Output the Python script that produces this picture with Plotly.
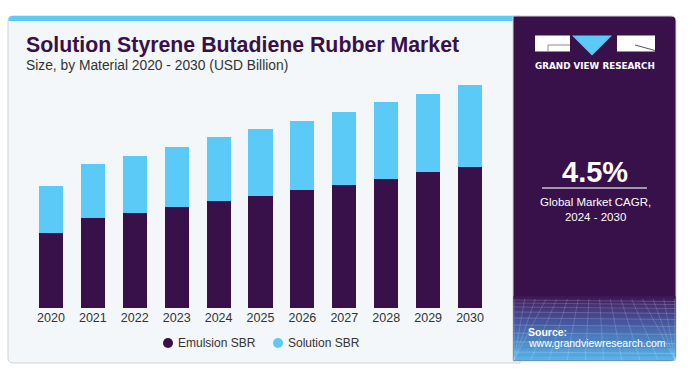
import plotly.graph_objects as go

# ---------------- data ----------------
years = ["2020", "2021", "2022", "2023", "2024", "2025", "2026", "2027", "2028", "2029", "2030"]
emulsion_sbr = [5.96, 7.13, 7.53, 8.00, 8.48, 8.90, 9.38, 9.78, 10.26, 10.81, 11.21]
solution_sbr = [3.72, 4.29, 4.58, 4.80, 5.09, 5.36, 5.51, 5.83, 6.09, 6.23, 6.52]
series_names = ["Emulsion SBR", "Solution SBR"]
highlight_year = "2023"
cagr_value = "4.5%"
cagr_label = "Global Market CAGR,<br>2024 - 2030"

# ---------------- style ----------------
W, H = 694, 373
L, R, T, B = 30, 203, 80, 65
PW, PH = W - L - R, H - T - B
DARK = "#38114a"
CYAN = "#5ccaf6"
TXT = "#333333"
FONT = "Liberation Sans, Arial, sans-serif"

def fx(x):
    return (x - L) / PW

def fy(y):
    return (H - B - y) / PH

def rrect(x0, y0, x1, y1, rtl=0, rtr=0, rbr=0, rbl=0):
    d = f"M {fx(x0 + rtl)},{fy(y0)} L {fx(x1 - rtr)},{fy(y0)} "
    d += f"Q {fx(x1)},{fy(y0)} {fx(x1)},{fy(y0 + rtr)} "
    d += f"L {fx(x1)},{fy(y1 - rbr)} Q {fx(x1)},{fy(y1)} {fx(x1 - rbr)},{fy(y1)} "
    d += f"L {fx(x0 + rbl)},{fy(y1)} Q {fx(x0)},{fy(y1)} {fx(x0)},{fy(y1 - rbl)} "
    d += f"L {fx(x0)},{fy(y0 + rtl)} Q {fx(x0)},{fy(y0)} {fx(x0 + rtl)},{fy(y0)} Z"
    return d

fig = go.Figure()
fig.add_trace(go.Bar(x=years, y=emulsion_sbr, name=series_names[0],
                     marker=dict(color=DARK, line=dict(width=0)), showlegend=False))
fig.add_trace(go.Bar(x=years, y=solution_sbr, name=series_names[1],
                     marker=dict(color=CYAN, line=dict(width=0)), showlegend=False))

totals = [a + b for a, b in zip(emulsion_sbr, solution_sbr)]
hi = years.index(highlight_year)

shapes = []
# card background
shapes.append(dict(type="path", path=rrect(8, 16, 520, 363, 5, 0, 0, 5), xref="paper", yref="paper",
                   fillcolor="#f3f7fa", line=dict(color="#cfd3d8", width=1), layer="below"))
# top cyan stripe
shapes.append(dict(type="path", path=rrect(8.5, 16, 514, 21, 4, 0, 0, 0), xref="paper", yref="paper",
                   fillcolor=CYAN, line=dict(width=0), layer="below"))
# right panel
shapes.append(dict(type="path", path=rrect(513, 16, 676, 361, 0, 5, 5, 0), xref="paper", yref="paper",
                   fillcolor="#38114a", line=dict(color="#cfd3d8", width=1), layer="below"))
# gradient at the bottom of the panel (3 stops)
stops = [(296, (0x3b, 0x15, 0x50)), (304, (0x44, 0x2e, 0x6e)), (325, (0x47, 0x5e, 0xa6)),
         (360, (0x58, 0xb6, 0xea))]
n = 40
y_start, y_end = 296, 360
for i in range(n):
    ya = y_start + (y_end - y_start) * i / n
    yb = y_start + (y_end - y_start) * (i + 1) / n + 0.5
    ym = (ya + yb) / 2
    for j in range(len(stops) - 1):
        if stops[j][0] <= ym <= stops[j + 1][0] or j == len(stops) - 2:
            s0, s1 = stops[j], stops[j + 1]
            break
    t = max(0, min(1, (ym - s0[0]) / (s1[0] - s0[0])))
    col = tuple(int(s0[1][k] + (s1[1][k] - s0[1][k]) * t) for k in range(3))
    shapes.append(dict(type="rect", xref="paper", yref="paper",
                       x0=fx(513.5), x1=fx(675.5), y0=fy(ya), y1=fy(yb),
                       fillcolor="rgb(%d,%d,%d)" % col, line=dict(width=0), layer="below"))
# faint grid texture
hy = [300, 303, 307, 312, 318, 325, 333, 342, 352]
for y in hy:
    shapes.append(dict(type="line", xref="paper", yref="paper", x0=fx(514), x1=fx(675), y0=fy(y), y1=fy(y + 1.5),
                       line=dict(color="rgba(255,255,255,0.22)", width=0.8), layer="below"))
for i in range(16):
    xt = 514 + i * 10.7
    xb = 594 + (xt - 594) * 1.7
    xb = max(514, min(675, xb))
    shapes.append(dict(type="line", xref="paper", yref="paper", x0=fx(xt), x1=fx(xb), y0=fy(299), y1=fy(360),
                       line=dict(color="rgba(255,255,255,0.2)", width=0.8), layer="below"))
# logo
shapes.append(dict(type="rect", xref="paper", yref="paper", x0=fx(535), x1=fx(570), y0=fy(35.5), y1=fy(51.5),
                   fillcolor="white", line=dict(width=0)))
shapes.append(dict(type="path", xref="paper", yref="paper",
                   path=f"M {fx(548)},{fy(51.5)} L {fx(548)},{fy(45)} L {fx(570)},{fy(45)}",
                   line=dict(color="#8a8a8a", width=1)))
shapes.append(dict(type="path", xref="paper", yref="paper",
                   path=f"M {fx(572)},{fy(35.5)} L {fx(612)},{fy(35.5)} L {fx(592)},{fy(55.5)} Z",
                   fillcolor=CYAN, line=dict(width=0)))
shapes.append(dict(type="rect", xref="paper", yref="paper", x0=fx(617), x1=fx(655), y0=fy(35.5), y1=fy(51.5),
                   fillcolor="white", line=dict(width=0)))
shapes.append(dict(type="line", xref="paper", yref="paper", x0=fx(635), x1=fx(655), y0=fy(45), y1=fy(50.5),
                   line=dict(color="#5a4a6a", width=1)))
# CAGR divider line
shapes.append(dict(type="line", xref="paper", yref="paper", x0=fx(542), x1=fx(647), y0=fy(188), y1=fy(188),
                   line=dict(color="#c9c2d0", width=1.5)))
# legend circles
leg_x = [168, 278]
leg_cols = [DARK, CYAN]
for xc, col in zip(leg_x, leg_cols):
    shapes.append(dict(type="circle", xref="paper", yref="paper", x0=fx(xc - 5), x1=fx(xc + 5),
                       y0=fy(343 - 5), y1=fy(343 + 5), fillcolor=col, line=dict(width=0)))

ann = []
ann.append(dict(x=fx(24), y=fy(45), xref="paper", yref="paper", xanchor="left", yanchor="middle",
                text="<b>Solution Styrene Butadiene Rubber Market</b>", showarrow=False,
                font=dict(family=FONT, size=21.3, color="#3a1048")))
ann.append(dict(x=fx(24), y=fy(65.5), xref="paper", yref="paper", xanchor="left", yanchor="middle",
                text="Size, by Material 2020 - 2030 (USD Billion)", showarrow=False,
                font=dict(family=FONT, size=13.8, color=TXT)))
ann.append(dict(x=highlight_year, y=totals[hi], xref="x", yref="y", yanchor="bottom", yshift=6,
                text=f"${totals[hi]:.1f}B", showarrow=False, font=dict(family=FONT, size=12.5, color=TXT)))
for xc, name in zip(leg_x, series_names):
    ann.append(dict(x=fx(xc + 8), y=fy(343), xref="paper", yref="paper", xanchor="left", yanchor="middle",
                    text=name, showarrow=False, font=dict(family=FONT, size=12, color=TXT)))
ann.append(dict(x=fx(595), y=fy(65.7), xref="paper", yref="paper", xanchor="center", yanchor="middle",
                text="<b>GRAND VIEW RESEARCH</b>", showarrow=False,
                font=dict(family="DejaVu Sans, sans-serif", size=8.8, color="white")))
ann.append(dict(x=fx(595), y=fy(172), xref="paper", yref="paper", xanchor="center", yanchor="middle",
                text=f"<b>{cagr_value}</b>", showarrow=False, font=dict(family=FONT, size=29, color="white")))
ann.append(dict(x=fx(595), y=fy(209.5), xref="paper", yref="paper", xanchor="center", yanchor="middle",
                text=cagr_label, showarrow=False, font=dict(family=FONT, size=11.5, color="white")))
ann.append(dict(x=fx(526), y=fy(331.7), xref="paper", yref="paper", xanchor="left", yanchor="middle",
                text="<b>Source:</b>", showarrow=False, font=dict(family=FONT, size=10.5, color="white")))
ann.append(dict(x=fx(526), y=fy(343.3), xref="paper", yref="paper", xanchor="left", yanchor="middle",
                text="www.grandviewresearch.com", showarrow=False, font=dict(family=FONT, size=10.5, color="white")))

fig.update_layout(
    width=W, height=H,
    margin=dict(l=L, r=R, t=T, b=B, pad=0),
    barmode="stack", bargap=0.427,
    paper_bgcolor="white", plot_bgcolor="rgba(0,0,0,0)",
    shapes=shapes, annotations=ann,
    xaxis=dict(type="category", range=[-0.5, 10.5], showgrid=False, zeroline=False, showline=False,
               ticks="", tickfont=dict(family=FONT, size=12.5, color=TXT)),
    yaxis=dict(range=[0, PH / 12.578], visible=False, showgrid=False, zeroline=False),
    font=dict(family=FONT),
)
fig.write_html("out.html", config={"displayModeBar": False},
               post_script="document.body.style.margin='0';document.body.style.padding='0';")
